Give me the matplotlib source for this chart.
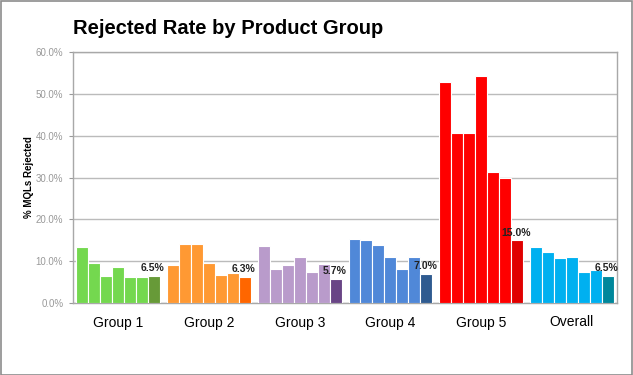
import numpy as np
import matplotlib
matplotlib.use('Agg')
import matplotlib.pyplot as plt
from matplotlib import font_manager
from matplotlib.patches import Rectangle

plt.rcParams['font.family'] = ['Liberation Sans', 'DejaVu Sans']

# ============================================================================
# Data
# ============================================================================
groups = ['Group 1', 'Group 2', 'Group 3', 'Group 4', 'Group 5', 'Overall']

group1 = [13.4, 9.5, 6.4, 8.6, 6.1, 6.3, 6.5]
group2 = [9.0, 14.0, 14.0, 9.5, 6.8, 7.1, 6.3]
group3 = [13.6, 8.1, 9.2, 11.1, 7.4, 9.4, 5.7]
group4 = [15.4, 15.0, 13.8, 10.9, 8.1, 10.9, 7.0]
group5 = [52.9, 40.7, 40.7, 54.3, 31.4, 30.0, 15.0]
overall = [13.3, 12.3, 10.7, 10.9, 7.4, 7.9, 6.5]

series = [group1, group2, group3, group4, group5, overall]

base_colors = ['#74D84F', '#FF9933', '#B99BCB', '#5088D8', '#FF0000', '#00B0F0']
last_colors = ['#679A38', '#FF6600', '#694586', '#2F5B90', '#E00000', '#00879B']

# ============================================================================
# Plot
# ============================================================================
fig = plt.figure(figsize=(6.33, 3.75), dpi=100)
ax = fig.add_axes([0.1153, 0.192, 0.8597, 0.669])

bar_w = 0.132
for i, vals in enumerate(series):
    n = len(vals)
    xs = i + (np.arange(n) - (n - 1) / 2) * bar_w
    colors = [base_colors[i]] * (n - 1) + [last_colors[i]]
    ax.bar(xs, vals, width=bar_w, color=colors, edgecolor='white',
           linewidth=0.8, zorder=3)
    ax.annotate(f'{vals[-1]:.1f}%', (xs[-1], vals[-1]), xytext=(-1, 2),
                textcoords='offset points', ha='center', va='bottom',
                fontsize=7.5, fontweight='bold', color='#222222', zorder=4)

ax.set_xlim(-0.5, len(groups) - 0.5)
ax.set_ylim(0, 60)
ax.set_yticks(np.arange(0, 61, 10))
ax.set_yticklabels([f'{v:.1f}%' for v in np.arange(0, 61, 10)])
ax.set_xticks(range(len(groups)))
ax.set_xticklabels(groups, fontsize=10)

ax.tick_params(axis='x', length=0, pad=9)
ax.tick_params(axis='y', labelsize=7, labelcolor='#999999', length=3,
               color='#999999', pad=4)
ax.grid(axis='y', color='#BBBBBB', linewidth=1, zorder=0)
for s in ax.spines.values():
    s.set_color('#A8A8A8')
    s.set_linewidth(1)

ax.set_ylabel('% MQLs Rejected', fontsize=7, fontweight='bold', labelpad=1)

# title looks condensed; use the narrow family if it is there
names = {f.name for f in font_manager.fontManager.ttflist}
if 'Liberation Sans Narrow' in names:
    fig.text(0.1153, 0.925, 'Rejected Rate by Product Group', fontsize=17.5,
             fontweight='bold', ha='left', va='center',
             family=['Liberation Sans Narrow', 'DejaVu Sans'])
else:
    fig.text(0.1153, 0.925, 'Rejected Rate by Product Group', fontsize=14.5,
             fontweight='bold', ha='left', va='center')

# outer frame of the chart
fig.patches.append(Rectangle((0.001, 0.001), 0.997, 0.996, transform=fig.transFigure,
                             fill=False, edgecolor='#8C8C8C', linewidth=1.2))

plt.savefig('out.png', dpi=100)
